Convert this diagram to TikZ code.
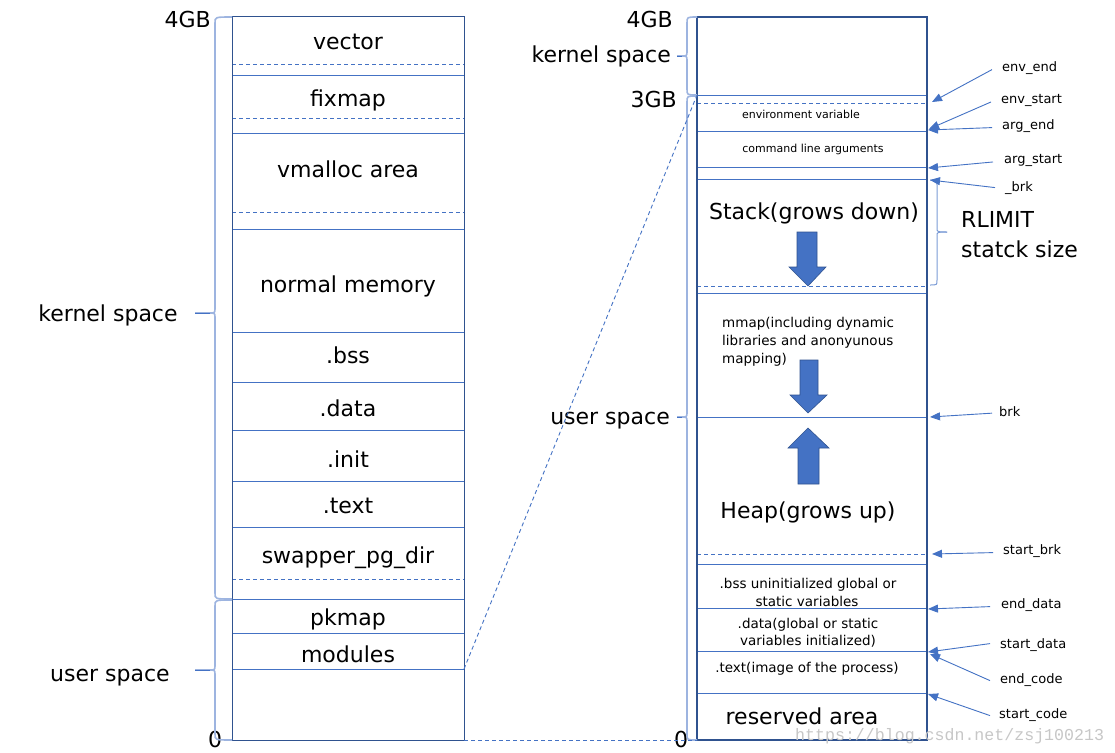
\documentclass[tikz,border=0pt]{standalone}
\usepackage{fontspec}
\setmainfont{DejaVu Sans}
\setmonofont{Liberation Mono}
\usetikzlibrary{arrows.meta}
\definecolor{lineblue}{HTML}{4472C4}
\definecolor{darkblue}{HTML}{2F528F}
\definecolor{braceblue}{HTML}{9DB4E0}
\newcommand\leftbr[6]{% xline, xend, xtip, top, mid, bot
  \draw[brace] (#2,#4) .. controls (#1,#4) .. (#1,#4+6) -- (#1,#5-5)
    .. controls (#1,#5) .. (#1-6,#5) -- (#3,#5);
  \draw[brace] (#1-6,#5) .. controls (#1,#5) .. (#1,#5+5) -- (#1,#6-6)
    .. controls (#1,#6) .. (#2,#6);
  \draw[lineblue, line width=0.8pt] (#3,#5) -- (#1-5,#5);}
\begin{document}
\begin{tikzpicture}[x=1pt,y=-1pt,
  big/.style={font=\fontsize{22}{26}\selectfont, inner sep=0pt, anchor=base},
  small/.style={font=\fontsize{11}{13}\selectfont, inner sep=0pt, anchor=base},
  mid/.style={font=\fontsize{13.5}{17}\selectfont, inner sep=0pt, anchor=base},
  lab/.style={font=\fontsize{13}{15}\selectfont, inner sep=0pt, anchor=base west},
  sep/.style={draw=lineblue, line width=1pt},
  dsep/.style={draw=lineblue, line width=1pt, dash pattern=on 4pt off 3pt},
  ptr/.style={draw=lineblue, line width=0.9pt, -{Triangle[length=10pt,width=8pt]}},
  brace/.style={draw=braceblue, line width=1.6pt},
  blockarrow/.style={fill=lineblue, draw=darkblue, line width=0.6pt}
]
\useasboundingbox (0,0) rectangle (1115,752);
\fill[white] (0,0) rectangle (1115,752);

% ---------------- left column ----------------
\foreach \y in {75,133,229,332,382,430,481,527,599,633,669}
  \draw[sep] (232,\y) -- (464,\y);
\foreach \y in {64,118,212,579}
  \draw[dsep] (232,\y) -- (464,\y);
\draw[darkblue, line width=1pt] (232,17) rectangle (464,740);

\node[big] (vector) at (348,50) {vector};
\node[big] (fixmap) at (348,106) {fixmap};
\node[big] (vmalloc) at (348,177) {vmalloc area};
\node[big] (normal) at (348,292) {normal memory};
\node[big] (bss) at (348,363) {.bss};
\node[big] (data) at (348,416) {.data};
\node[big] (init) at (348,467) {.init};
\node[big] (text) at (348,513) {.text};
\node[big] (swapper) at (348,563) {swapper\_pg\_dir};
\node[big] (pkmap) at (348,625) {pkmap};
\node[big] (modules) at (348,662) {modules};

\node[big, anchor=base east] (l4gb) at (211,28) {4GB};
\node[big] (l0) at (215,747) {0};
\node[big] (lkernel) at (108,321) {kernel space};
\node[big] (luser) at (110,681) {user space};

\leftbr{215}{232}{195}{17}{313}{599}
\leftbr{215}{232}{195}{600}{670}{740}

% ---------------- right column ----------------
\foreach \y in {95,131,167,179,293,417,564,608,651,693}
  \draw[sep] (697,\y) -- (927,\y);
\foreach \y in {103,286,554}
  \draw[dsep] (697,\y) -- (927,\y);
\draw[darkblue, line width=2.4pt] (697,17) rectangle (927,740);

\node[small] (env) at (801,118) {environment variable};
\node[small] (cmd) at (813,152) {command line arguments};
\node[big] (stack) at (814,219) {Stack(grows down)};
\node[mid, anchor=base west] (mmap1) at (722,327) {mmap(including dynamic};
\node[mid, anchor=base west] (mmap2) at (722,345) {libraries and anonyunous};
\node[mid, anchor=base west] (mmap3) at (722,363) {mapping)};
\node[big] (heap) at (808,518) {Heap(grows up)};
\node[mid] (rbss1) at (808,588) {.bss uninitialized global or};
\node[mid] (rbss2) at (807,606) {static variables};
\node[mid] (rdata1) at (808,628) {.data(global or static};
\node[mid] (rdata2) at (808,645) {variables initialized)};
\node[mid] (rtext) at (807,672) {.text(image of the process)};
\node[big] (reserved) at (802,724) {reserved area};

% block arrows
\draw[blockarrow] (797,232) -- (817,232) -- (817,267) -- (826,267) -- (808,286)
  -- (789,267) -- (797,267) -- cycle;
\draw[blockarrow] (800,360) -- (818,360) -- (818,395) -- (827,395) -- (808,413)
  -- (790,395) -- (800,395) -- cycle;
\draw[blockarrow] (798,484) -- (819,484) -- (819,448) -- (829,448) -- (808,428)
  -- (788,448) -- (798,448) -- cycle;

% outer labels right
\node[big, anchor=base east] (r4gb) at (673,28) {4GB};
\node[big, anchor=base east] (rkernel) at (671,63) {kernel space};
\node[big, anchor=base east] (r3gb) at (677,107) {3GB};
\node[big, anchor=base east] (ruser) at (670,424) {user space};
\node[big] (r0) at (681,747) {0};

\leftbr{687}{697}{677}{17}{56}{95}
\leftbr{687}{697}{677}{96}{417}{740}

% RLIMIT brace (right facing)
\draw[brace, line width=1pt, draw=lineblue!70] (930,180) .. controls (937,180) .. (937,185) -- (937,228)
  .. controls (937,232) .. (947,232);
\draw[brace, line width=1pt, draw=lineblue!70] (947,232) .. controls (937,232) .. (937,236) -- (937,280)
  .. controls (937,285) .. (930,285);
\node[big, anchor=base west] (rlimit1) at (961,227) {RLIMIT};
\node[big, anchor=base west] (rlimit2) at (961,257) {statck size};

% pointer labels
\node[lab] (envend) at (1002,71) {env\_end};
\node[lab] (envstart) at (1001,103) {env\_start};
\node[lab] (argend) at (1002,129) {arg\_end};
\node[lab] (argstart) at (1004,163) {arg\_start};
\node[lab] (brk1) at (1005,191) {\_brk};
\node[lab] (brk2) at (999,416) {brk};
\node[lab] (startbrk) at (1003,554) {start\_brk};
\node[lab] (enddata) at (1001,608) {end\_data};
\node[lab] (startdata) at (1000,648) {start\_data};
\node[lab] (endcode) at (1000,683) {end\_code};
\node[lab] (startcode) at (999,718) {start\_code};

\coordinate (t-envend) at (932,102);
\coordinate (t-envstart) at (929,129);
\coordinate (t-argend) at (928,130);
\coordinate (t-argstart) at (928,168);
\coordinate (t-brk1) at (930,180);
\coordinate (t-brk2) at (930,417);
\coordinate (t-startbrk) at (932,554);
\coordinate (t-enddata) at (928,609);
\coordinate (t-startdata) at (928,652);
\coordinate (t-endcode) at (930,654);
\coordinate (t-startcode) at (928,694);

\draw[ptr] ([xshift=-10pt,yshift=-2pt]envend.west) -- (t-envend);
\draw[ptr] ([xshift=-10pt,yshift=-2pt]envstart.west) -- (t-envstart);
\draw[ptr] ([xshift=-10pt,yshift=-2pt]argend.west) -- (t-argend);
\draw[ptr] ([xshift=-11pt,yshift=-2pt]argstart.west) -- (t-argstart);
\draw[ptr] ([xshift=-10pt,yshift=0pt]brk1.west) -- (t-brk1);
\draw[ptr] ([xshift=-7pt,yshift=-2pt]brk2.west) -- (t-brk2);
\draw[ptr] ([xshift=-10pt,yshift=-2pt]startbrk.west) -- (t-startbrk);
\draw[ptr] ([xshift=-11pt,yshift=-2pt]enddata.west) -- (t-enddata);
\draw[ptr] ([xshift=-10pt,yshift=1pt]startdata.west) -- (t-startdata);
\draw[ptr] ([xshift=-10pt,yshift=-1pt]endcode.west) -- (t-endcode);
\draw[ptr] ([xshift=-9pt,yshift=-1pt]startcode.west) -- (t-startcode);

% dashed links between the columns
\coordinate (lmod) at (464,669);
\coordinate (lbot) at (464,740);
\coordinate (r3) at (697,95);
\coordinate (rbot) at (697,740);
\draw[lineblue, line width=0.9pt, dash pattern=on 4pt off 3pt] (lmod) -- (r3);
\draw[lineblue, line width=0.9pt, dash pattern=on 4pt off 3pt] (lbot) -- (rbot);

% watermark
\node[font=\ttfamily\fontsize{16.6}{18}\selectfont, text=black!22, inner sep=0pt, anchor=base west] (wm) at (795,740) {https://blog.csdn.net/zsj100213};
\end{tikzpicture}
\end{document}
